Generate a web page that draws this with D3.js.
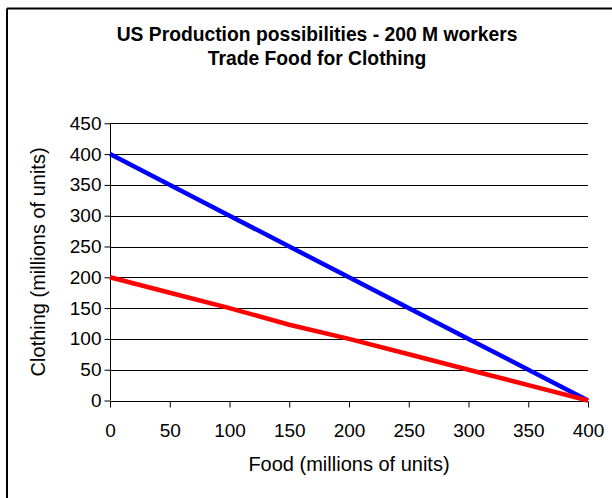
<!DOCTYPE html>
<html>
<head>
<meta charset="utf-8">
<script src="https://cdn.jsdelivr.net/npm/d3@7"></script>
<style>
  html, body { margin: 0; padding: 0; background: #fff; }
  svg text { font-family: "Liberation Sans", Arial, sans-serif; fill: #000; }
</style>
</head>
<body>
<svg id="chart" width="612" height="498"></svg>
<script>
// ---- data ----
const titleLines = ["US Production possibilities - 200 M workers", "Trade Food for Clothing"];
const xLabel = "Food (millions of units)";
const yLabel = "Clothing (millions of units)";
const xTicks = [0, 50, 100, 150, 200, 250, 300, 350, 400];
const yTicks = [0, 50, 100, 150, 200, 250, 300, 350, 400, 450];
const blueFood = [0, 100, 200, 300, 400];
const blueClothing = [400, 300, 200, 100, 0];
const redFood = [0, 50, 100, 150, 200, 250, 300, 350, 400];
const redClothing = [200, 175, 150, 123, 100, 75, 50, 25, 0];

// ---- layout ----
const svg = d3.select("#chart");
const W = 612, H = 498;
const plot = { left: 110, right: 588, top: 123.3, bottom: 400.5 };
const x = d3.scaleLinear().domain([0, 400]).range([plot.left, plot.right]);
const y = d3.scaleLinear().domain([0, 450]).range([plot.bottom, plot.top]);

svg.append("rect").attr("width", W).attr("height", H).attr("fill", "#fff");

// chart frame (only top and left visible)
svg.append("line").attr("x1", 7).attr("x2", W).attr("y1", 8.5).attr("y2", 8.5)
  .attr("stroke", "#000").attr("stroke-width", 2);
svg.append("line").attr("x1", 7).attr("x2", 7).attr("y1", 8.5).attr("y2", H)
  .attr("stroke", "#000").attr("stroke-width", 2);

// title
const title = svg.append("text").attr("text-anchor", "middle")
  .style("font-size", "19.3px").style("font-weight", "bold");
title.selectAll("tspan").data(titleLines).join("tspan")
  .attr("x", 317).attr("y", (d, i) => 40.5 + i * 24.5).text(d => d);

// gridlines
svg.append("g").selectAll("line").data(yTicks.filter(d => d > 0)).join("line")
  .attr("x1", plot.left).attr("x2", plot.right)
  .attr("y1", d => Math.round(y(d)) + 0.5).attr("y2", d => Math.round(y(d)) + 0.5)
  .attr("stroke", "#000").attr("stroke-width", 1);

// y axis
const yAxis = svg.append("g").attr("transform", `translate(${plot.left + 0.5},0)`)
  .call(d3.axisLeft(y).tickValues(yTicks).tickSize(6).tickPadding(3).tickFormat(d3.format("d")));
yAxis.selectAll("path.domain").attr("stroke", "#000").attr("d", `M0,${y(450)}V${y(0)}`);
yAxis.selectAll(".tick line").attr("stroke", "#000");
yAxis.selectAll(".tick text").style("font-size", "19px").attr("fill", "#000").style("font-family", "Liberation Sans, Arial, sans-serif");

// x axis
const xAxis = svg.append("g").attr("transform", `translate(0,${Math.round(plot.bottom) + 0.5})`)
  .call(d3.axisBottom(x).tickValues(xTicks).tickSize(6).tickPadding(16).tickFormat(d3.format("d")));
xAxis.selectAll("path.domain").attr("stroke", "#000").attr("d", `M${x(0)},0H${x(400)}`);
xAxis.selectAll(".tick line").attr("stroke", "#000");
xAxis.selectAll(".tick text").style("font-size", "19px").attr("fill", "#000").style("font-family", "Liberation Sans, Arial, sans-serif");

// axis titles
svg.append("text").attr("text-anchor", "middle").attr("x", x(200)).attr("y", 471)
  .style("font-size", "20px").text(xLabel);
svg.append("text").attr("text-anchor", "middle")
  .attr("transform", `translate(45,${(plot.top + plot.bottom) / 2}) rotate(-90)`)
  .style("font-size", "20px").text(yLabel);

// series
const line = d3.line().x(d => x(d[0])).y(d => y(d[1]));
svg.append("path").datum(d3.zip(blueFood, blueClothing)).attr("d", line)
  .attr("fill", "none").attr("stroke", "#0000ff").attr("stroke-width", 4.5);
svg.append("path").datum(d3.zip(redFood, redClothing)).attr("d", line)
  .attr("fill", "none").attr("stroke", "#ff0000").attr("stroke-width", 4.5);
</script>
</body>
</html>
